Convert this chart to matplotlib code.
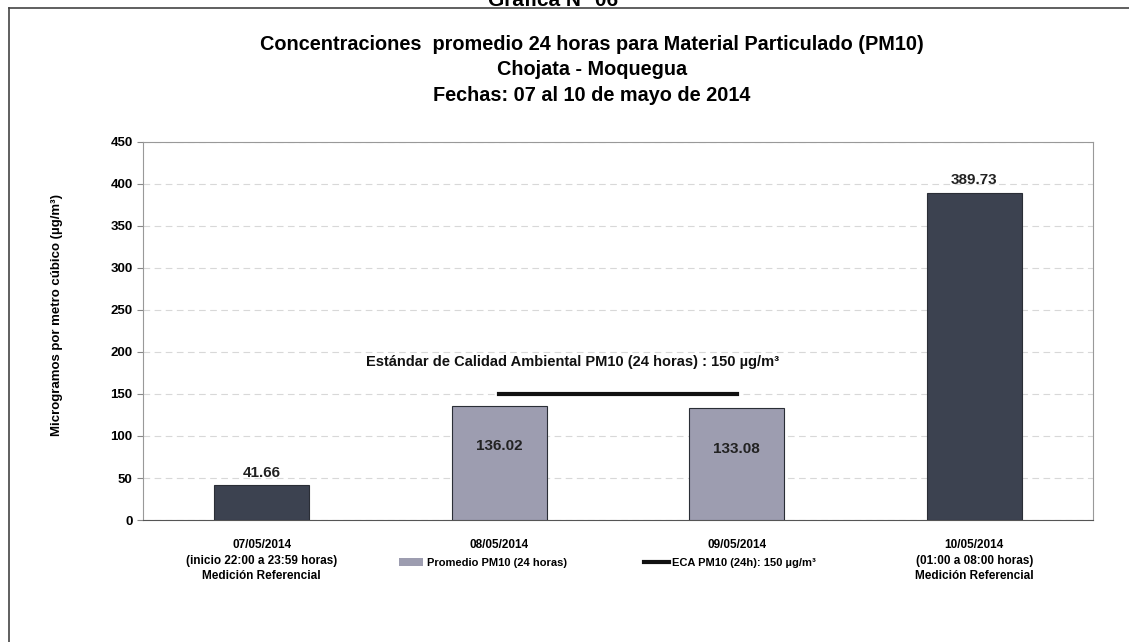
import numpy as np
import matplotlib.pyplot as plt
from matplotlib.lines import Line2D
from matplotlib.patches import Patch

plt.rcParams['font.family'] = ['Liberation Sans', 'DejaVu Sans']
plt.rcParams['font.weight'] = 'bold'

categories = ["07/05/2014\n(inicio 22:00 a 23:59 horas)\nMedición Referencial",
              "08/05/2014",
              "09/05/2014",
              "10/05/2014\n(01:00 a 08:00 horas)\nMedición Referencial"]
pm10 = [41.66, 136.02, 133.08, 389.73]
eca = [np.nan, 150, 150, np.nan]
referencial = [True, False, False, True]

dark = "#3c4250"
light = "#9d9db0"

fig = plt.figure(figsize=(11.29, 6.42), dpi=100)
ax = fig.add_axes([0.1267, 0.19, 0.8415, 0.589])

x = np.arange(len(categories))
colors = [dark if r else light for r in referencial]
ax.bar(x, pm10, width=0.4, color=colors, edgecolor="#2a2e36", linewidth=0.8, zorder=3)
ax.plot(x, eca, color="#111111", linewidth=3, zorder=4)

for xi, v, r in zip(x, pm10, referencial):
    if r:
        ax.text(xi, v + 6, "%.2f" % v, ha="center", va="bottom", fontsize=11, color="#222222")
    else:
        ax.text(xi, v - 48, "%.2f" % v, ha="center", va="center", fontsize=11, color="#222222")

ax.text(1.31, 188, "Estándar de Calidad Ambiental PM10 (24 horas) : 150 µg/m³",
        ha="center", va="center", fontsize=10.5, color="#111111")

ax.set_xlim(-0.5, 3.5)
ax.set_ylim(0, 450)
ax.set_yticks(range(0, 451, 50))
ax.set_xticks(x)
ax.set_xticklabels(categories, fontsize=8.5, linespacing=1.35)
ax.tick_params(axis="x", length=0, pad=14)
ax.tick_params(axis="y", labelsize=9.5, length=4, color="#888888")
ax.yaxis.grid(True, linestyle=(0, (6, 4)), color="#d8d8d8", linewidth=0.8, zorder=0)
for s in ax.spines.values():
    s.set_color("#999999")
    s.set_linewidth(0.8)
ax.spines["bottom"].set_color("#555555")
ax.set_ylabel("Microgramos por metro cúbico (µg/m³)", fontsize=9.5, fontweight="bold")
ax.yaxis.set_label_coords(-0.084, 0.542)

handles = [Patch(facecolor=light, edgecolor="none"),
           Line2D([0], [0], color="#111111", linewidth=3)]
fig.legend(handles, ["Promedio PM10 (24 horas)", "ECA PM10 (24h): 150 µg/m³"],
           loc="center", bbox_to_anchor=(0.538, 0.123), ncol=2, frameon=False,
           fontsize=8, columnspacing=7, handlelength=2.2, handletextpad=0.3)

fig.text(0.524, 0.93, "Concentraciones  promedio 24 horas para Material Particulado (PM10)",
         ha="center", va="center", fontsize=14.3)
fig.text(0.524, 0.891, "Chojata - Moquegua", ha="center", va="center", fontsize=14.3)
fig.text(0.524, 0.851, "Fechas: 07 al 10 de mayo de 2014", ha="center", va="center", fontsize=14.3)
fig.text(0.49, 1.0, "Gráfica N° 06", ha="center", va="center", fontsize=15)

fig.add_artist(Line2D([0.008, 1.0], [0.987, 0.987], color="#444444", linewidth=1.2))
fig.add_artist(Line2D([0.008, 0.008], [0.0, 0.987], color="#444444", linewidth=1.2))

fig.savefig("out.png", dpi=100)
